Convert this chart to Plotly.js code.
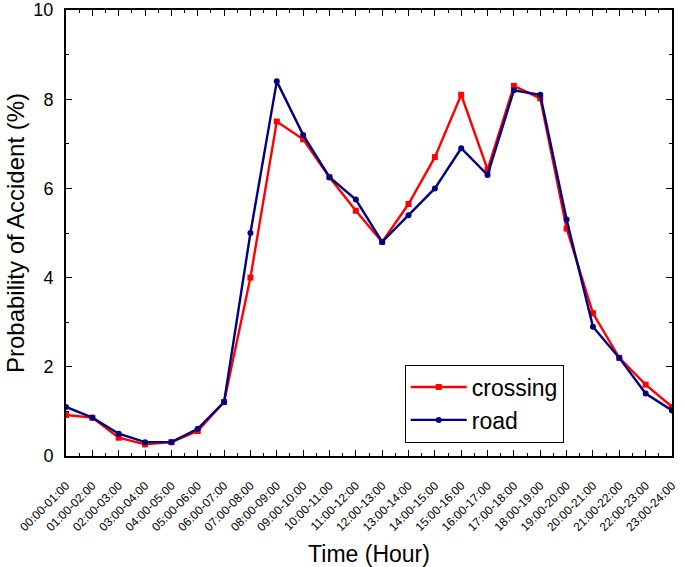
<!DOCTYPE html>
<html>
<head>
<meta charset="utf-8">
<script src="https://cdn.plot.ly/plotly-3.0.1.min.js"></script>
<style>html,body{margin:0;padding:0;background:#fff;}#chart{width:685px;height:567px;}</style>
</head>
<body>
<div id="chart"></div>
<script>
const timeLabels = ["00:00-01:00","01:00-02:00","02:00-03:00","03:00-04:00","04:00-05:00","05:00-06:00","06:00-07:00","07:00-08:00","08:00-09:00","09:00-10:00","10:00-11:00","11:00-12:00","12:00-13:00","13:00-14:00","14:00-15:00","15:00-16:00","16:00-17:00","17:00-18:00","18:00-19:00","19:00-20:00","20:00-21:00","21:00-22:00","22:00-23:00","23:00-24:00"];
const crossing = [0.92,0.86,0.41,0.26,0.31,0.56,1.21,4.0,7.5,7.1,6.25,5.5,4.8,5.65,6.7,8.1,6.42,8.3,8.02,5.1,3.2,2.2,1.6,1.1];
const road = [1.1,0.86,0.5,0.31,0.31,0.61,1.21,5.0,8.4,7.2,6.25,5.75,4.8,5.4,6.0,6.9,6.3,8.2,8.1,5.3,2.9,2.2,1.4,1.02];
const xIdx = timeLabels.map((_, i) => i);

const font = "Liberation Sans, Arial, sans-serif";
const traces = [
  {x: xIdx, y: crossing, name: "crossing", mode: "lines+markers",
   line: {color: "#ff0000", width: 2.4}, marker: {symbol: "square", size: 6, color: "#ff0000"}},
  {x: xIdx, y: road, name: "road", mode: "lines+markers",
   line: {color: "#000080", width: 2.4}, marker: {symbol: "circle", size: 6, color: "#000080"}}
];
const layout = {
  width: 685, height: 567,
  margin: {l: 66, r: 13, t: 10, b: 111},
  paper_bgcolor: "#fff", plot_bgcolor: "#fff",
  font: {family: font, color: "#000"},
  showlegend: true,
  legend: {x: 0.559, y: 0.205, xanchor: "left", yanchor: "top",
    bordercolor: "#000", borderwidth: 1, bgcolor: "#fff",
    font: {size: 23, family: font}, tracegroupgap: 0, itemwidth: 56},
  xaxis: {
    range: [0, 23], tickmode: "array", tickvals: xIdx, ticktext: timeLabels,
    tickangle: -45, tickfont: {size: 12, family: font}, ticklabelstandoff: 16,
    ticks: "inside", ticklen: 6, tickwidth: 1, tickcolor: "#000",
    minor: {dtick: 0.5, tick0: 0, ticks: "inside", ticklen: 3, tickcolor: "#000"},
    showline: true, linewidth: 2, linecolor: "#000", mirror: "ticks",
    showgrid: false, zeroline: false,
    title: {text: "Time (Hour)", font: {size: 23, family: font}, standoff: 14}
  },
  yaxis: {
    range: [0, 10], dtick: 2, tick0: 0, tickfont: {size: 18, family: font}, ticklabelstandoff: 7,
    ticks: "inside", ticklen: 6, tickwidth: 1, tickcolor: "#000",
    minor: {dtick: 1, ticks: "inside", ticklen: 3, tickcolor: "#000"},
    showline: true, linewidth: 2, linecolor: "#000", mirror: "ticks",
    showgrid: false, zeroline: false,
    title: {text: "Probability of Accident (%)", font: {size: 24, family: font}, standoff: 2}
  }
};
Plotly.newPlot("chart", traces, layout, {displayModeBar: false, staticPlot: true});
</script>
</body>
</html>
